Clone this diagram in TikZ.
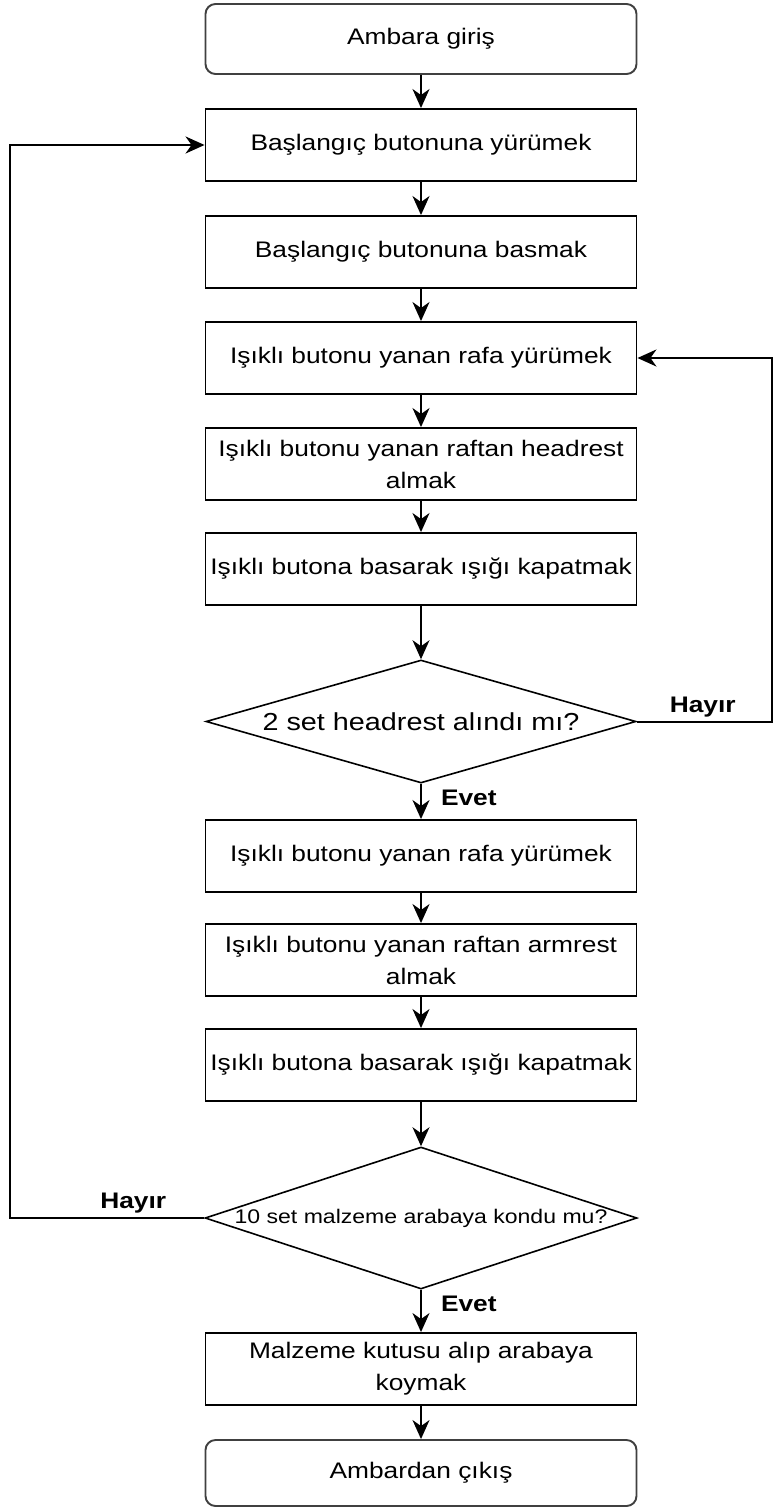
\documentclass[tikz,border=0pt]{standalone}
\usepackage{fontspec}
\setmainfont[FakeStretch=1.17]{Liberation Sans}
\usetikzlibrary{shapes.geometric,arrows.meta}
\begin{document}
\begin{tikzpicture}[x=1pt,y=-1pt,
  box/.style={draw, line width=1.9pt, minimum width=431pt, minimum height=72pt, inner sep=0pt, align=center, font=\fontsize{22.5}{32}\selectfont},
  term/.style={box, rounded corners=10pt, draw=black!75},
  dia/.style={draw, diamond, line width=1.6pt, inner sep=0pt},
  arr/.style={-{Stealth[length=19pt,width=17pt,inset=6pt]}, line width=2pt},
  lbl/.style={font=\bfseries\fontsize{22.5}{27}\selectfont, inner sep=0pt}]
\path[use as bounding box, fill=white] (0,0) rectangle (779,1508);

\node[term, minimum height=70pt] (start) at (421,39) {Ambara giriş};
\node[box] (b1) at (421,145) {Başlangıç butonuna yürümek};
\node[box] (b2) at (421,252) {Başlangıç butonuna basmak};
\node[box] (b3) at (421,358) {Işıklı butonu yanan rafa yürümek};
\node[box] (b4) at (421,464) {Işıklı butonu yanan raftan headrest\\almak};
\node[box] (b5) at (421,569) {Işıklı butona basarak ışığı kapatmak};
\node[dia, minimum width=430pt, minimum height=123pt,
  label={[name=d1t, font=\fontsize{24.6}{28}\selectfont]center:2 set headrest alındı mı?}] (d1) at (421,721.5) {};
\node[box] (b6) at (421,856) {Işıklı butonu yanan rafa yürümek};
\node[box] (b7) at (421,960) {Işıklı butonu yanan raftan armrest\\almak};
\node[box] (b8) at (421,1065) {Işıklı butona basarak ışığı kapatmak};
\node[dia, minimum width=432pt, minimum height=142pt,
  label={[name=d2t, font=\fontsize{19.7}{24}\selectfont]center:10 set malzeme arabaya kondu mu?}] (d2) at (421,1218) {};
\node[box] (b9) at (421,1369) {Malzeme kutusu alıp arabaya\\koymak};
\node[term, minimum height=66pt] (end) at (421,1473) {Ambardan çıkış};

\coordinate (r1) at (772,721.5);
\coordinate (l1) at (10,1218);

\draw[arr] (start) -- (b1);
\draw[arr] (b1) -- (b2);
\draw[arr] (b2) -- (b3);
\draw[arr] (b3) -- (b4);
\draw[arr] (b4) -- (b5);
\draw[arr] (b5) -- (d1);
\draw[arr] (d1) -- node[lbl, pos=0.4, anchor=west, xshift=19pt] {Evet} (b6);
\draw[arr] (b6) -- (b7);
\draw[arr] (b7) -- (b8);
\draw[arr] (b8) -- (d2);
\draw[arr] (d2) -- node[lbl, pos=0.33, anchor=west, xshift=19pt] {Evet} (b9);
\draw[arr] (b9) -- (end);

\draw[arr] (d1.east) -- node[lbl, pos=0, anchor=base west, xshift=32pt, yshift=9.5pt] {Hayır} (r1) |- (b3.east);
\draw[arr] (d2.west) -- node[lbl, pos=0, anchor=base east, xshift=-37pt, yshift=10pt] {Hayır} (l1) |- (b1.west);
\end{tikzpicture}
\end{document}
